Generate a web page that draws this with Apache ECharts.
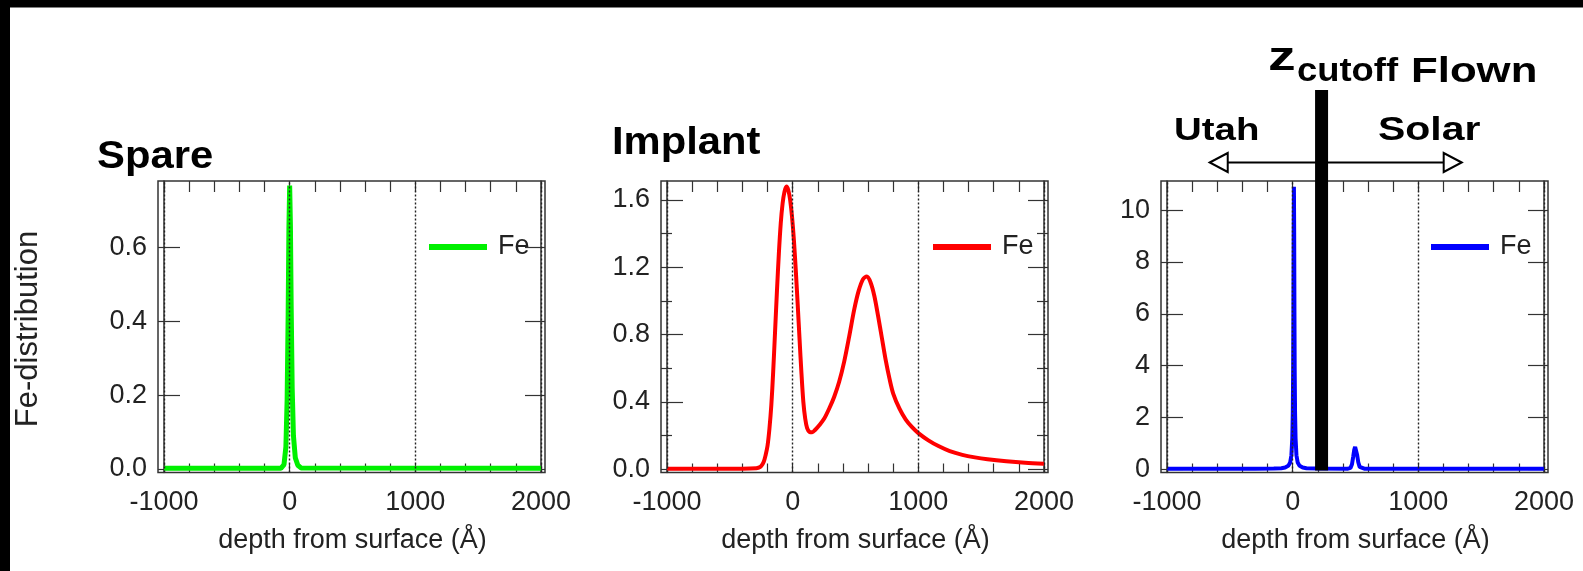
<!DOCTYPE html>
<html>
<head>
<meta charset="utf-8">
<script src="https://cdn.jsdelivr.net/npm/echarts@6/dist/echarts.min.js"></script>
<style>
  html, body { margin: 0; padding: 0; background: #fff; }
  #main { width: 1583px; height: 571px; }
</style>
</head>
<body>
<div id="main"></div>
<script>
// ---- data (depth in Å, Fe-distribution) ----
var spareDepth = [-1000, -70, -45, -30, -20, -12, -6, 0, 6, 12, 20, 30, 45, 65, 90, 2000];
var spareFe    = [0.002, 0.002, 0.012, 0.06, 0.19, 0.42, 0.65, 0.768, 0.66, 0.44, 0.22, 0.09, 0.03, 0.01, 0.003, 0.002];

var implantDepth = [-1000, -400, -290, -270, -250, -230, -215, -200, -185, -170, -155, -140, -125, -110, -95, -80, -65, -50, -35, -20, -5,
  10, 25, 40, 55, 70, 85, 100, 115, 135, 155, 180, 210, 250, 290, 330, 370, 410, 450, 490, 525, 560, 590, 620, 650, 680, 710, 740, 770,
  800, 850, 900, 950, 1000, 1080, 1160, 1250, 1350, 1450, 1550, 1700, 1850, 2000];
var implantFe = [0.004, 0.004, 0.006, 0.01, 0.02, 0.045, 0.085, 0.14, 0.24, 0.38, 0.58, 0.82, 1.06, 1.28, 1.46, 1.58, 1.65, 1.68, 1.66, 1.6, 1.5,
  1.36, 1.18, 0.98, 0.77, 0.57, 0.4, 0.3, 0.245, 0.222, 0.22, 0.235, 0.26, 0.3, 0.36, 0.43, 0.52, 0.64, 0.79, 0.95, 1.06, 1.13, 1.145, 1.11, 1.03, 0.91, 0.78, 0.65, 0.54,
  0.45, 0.36, 0.295, 0.25, 0.215, 0.172, 0.138, 0.108, 0.086, 0.071, 0.06, 0.048, 0.039, 0.033];

var flownDepth = [-1000, -300, -150, -90, -60, -35, -20, -10, -3, 1, 4, 6, 8, 10, 12, 14, 16, 19, 23, 30, 40, 55, 80, 110, 200,
  440, 460, 472, 482, 490, 497, 505, 513, 522, 533, 548, 570, 2000];
var flownFe = [0.03, 0.03, 0.04, 0.05, 0.075, 0.14, 0.27, 0.55, 1.2, 2.2, 3.9, 6.1, 9.1, 10.9, 9.1, 6.1, 3.9, 2.2, 1.2, 0.55, 0.27, 0.14, 0.075, 0.05, 0.035,
  0.03, 0.06, 0.2, 0.5, 0.76, 0.87, 0.8, 0.56, 0.28, 0.1, 0.04, 0.03, 0.03];

// tick values
var xLabelValues = [-1000, 0, 1000, 2000];
var gridLineValues = [-1000, 0, 1000, 2000];
var spareYTicks = [0, 0.2, 0.4, 0.6];
var implantYTicks = [0, 0.4, 0.8, 1.2, 1.6];
var implantYMinor = [0.2, 0.6, 1.0, 1.4];
var flownYTicks = [0, 2, 4, 6, 8, 10];

// cutoff depth and the Utah / Solar arrow span (Å)
var zCutoff = 230;
var arrowFrom = -660;
var arrowTo = 1345;

var FONT = "'Liberation Sans', Arial, Helvetica, sans-serif";
var AXIS = '#333';
var GRID_TOP = 181, GRID_W = 377, GRID_H = 291.5;

function zip(xs, ys) {
  return xs.map(function (x, i) { return [x, ys[i]]; });
}

var panels = [
  { name: 'Fe (Spare)', color: '#00f000', lw: 5, smooth: false, data: zip(spareDepth, spareFe),
    yMin: -0.0095, yMax: 0.7805, ticks: spareYTicks, minor: null, digits: 1, left: 164, legendLeft: 429 },
  { name: 'Fe (Implant)', color: '#ff0000', lw: 4, smooth: 0.3, data: zip(implantDepth, implantFe),
    yMin: -0.019, yMax: 1.713, ticks: implantYTicks, minor: implantYMinor, digits: 1, left: 667, legendLeft: 933 },
  { name: 'Fe (Flown)', color: '#0000ff', lw: 4, smooth: false, data: zip(flownDepth, flownFe),
    yMin: -0.116, yMax: 11.12, ticks: flownYTicks, minor: null, digits: 0, left: 1167, legendLeft: 1431 }
];

var grids = [], xAxes = [], yAxes = [], series = [], legends = [], graphics = [];

panels.forEach(function (p, i) {
  grids.push({ left: p.left, top: GRID_TOP, width: GRID_W, height: GRID_H });

  var bottomX = xAxes.length;
  xAxes.push({
    gridIndex: i, type: 'value', position: 'bottom', min: -1000, max: 2000, interval: 200,
    axisLine: { show: false, onZero: false },
    axisTick: { inside: true, length: 9, lineStyle: { color: AXIS, width: 1.2 } },
    axisLabel: { customValues: xLabelValues, formatter: function (v) { return String(v); },
      fontSize: 27, color: '#222', margin: 17, fontFamily: FONT },
    splitLine: { show: false },
    name: 'depth from surface (Å)', nameLocation: 'middle', nameGap: 55,
    nameTextStyle: { fontSize: 27, color: '#222', fontFamily: FONT }
  });
  xAxes.push({
    gridIndex: i, type: 'value', position: 'top', min: -1000, max: 2000, interval: 200,
    axisLine: { show: false, onZero: false },
    axisTick: { inside: true, length: 11, lineStyle: { color: AXIS, width: 1.2 } },
    axisLabel: { show: false }, splitLine: { show: false }
  });

  var fmt = function (v) { return Number(v).toFixed(p.digits); };
  var mainY = yAxes.length;
  function yAx(pos, offset, ticks, len, labels, line) {
    yAxes.push({
      gridIndex: i, type: 'value', position: pos, offset: offset, min: p.yMin, max: p.yMax,
      axisLine: { show: !!line, onZero: false, lineStyle: { color: AXIS, width: 1.5 } },
      axisTick: ticks ? { show: true, inside: true, length: len, customValues: ticks, lineStyle: { color: AXIS, width: 1.2 } } : { show: false },
      axisLabel: labels ? { customValues: ticks, formatter: fmt, fontSize: 27, color: '#222', margin: 11, fontFamily: FONT } : { show: false },
      splitLine: { show: false }
    });
  }
  yAx('left', 6, p.ticks, 22, true, false);
  yAx('right', 4, p.ticks, 20, false, false);
  yAx('left', 0, null, 0, false, true);
  yAx('right', 0, null, 0, false, true);
  if (p.minor) {
    yAx('left', 6, p.minor, 11, false, false);
    yAx('right', 4, p.minor, 11, false, false);
  }

  series.push({
    type: 'line', name: p.name, xAxisIndex: bottomX, yAxisIndex: mainY,
    data: p.data, symbol: 'none', showSymbol: false, smooth: p.smooth,
    lineStyle: { color: p.color, width: p.lw }, itemStyle: { color: p.color },
    z: 3,
    markLine: {
      silent: true, symbol: 'none', label: { show: false },
      lineStyle: { color: '#222', type: [2, 2], width: 1.4 },
      data: gridLineValues.map(function (v) { return { xAxis: v }; })
    }
  });

  legends.push({
    data: [p.name], left: p.legendLeft, top: 232, padding: 0, icon: 'rect',
    itemWidth: 58, itemHeight: 6, selectedMode: false,
    formatter: function () { return 'Fe'; },
    textStyle: { fontSize: 27, color: '#222', fontFamily: FONT, padding: [0, 0, 0, 6], lineHeight: 30 }
  });

  // plot frame
  graphics.push({
    type: 'rect', z: 10, silent: true,
    shape: { x: p.left - 6, y: GRID_TOP, width: GRID_W + 10, height: GRID_H },
    style: { fill: 'none', stroke: AXIS, lineWidth: 1.5 }
  });
});

function label(text, x, y, size, sx) {
  return {
    type: 'text', x: x, y: y, scaleX: sx, z: 20, silent: true,
    style: { text: text, fill: '#000', font: 'bold ' + size + 'px ' + FONT, align: 'left', verticalAlign: 'middle' }
  };
}

// black border strips of the original image
graphics.push({ type: 'rect', z: 30, shape: { x: 0, y: 0, width: 1583, height: 7.5 }, style: { fill: '#000' } });
graphics.push({ type: 'rect', z: 30, shape: { x: 0, y: 0, width: 10, height: 571 }, style: { fill: '#000' } });

graphics.push(label('Spare', 97, 158, 38, 1.1));
graphics.push(label('Implant', 612, 143, 39, 1.07));
graphics.push(label('Utah', 1174, 131, 32, 1.2));
graphics.push(label('Solar', 1378, 131, 33, 1.24));
graphics.push(label('z', 1268, 59, 41, 1.35));
graphics.push(label('cutoff', 1297, 72, 34, 1.07));
graphics.push(label('Flown', 1411, 72.5, 35, 1.25));
graphics.push({
  type: 'text', x: 28.5, y: 329, rotation: Math.PI / 2, z: 20, silent: true,
  style: { text: 'Fe-distribution', fill: '#222', font: '31px ' + FONT, align: 'center', verticalAlign: 'middle' }
});

var chart = echarts.init(document.getElementById('main'), null, { renderer: 'canvas' });

var option = {
  backgroundColor: '#fff',
  animation: false,
  grid: grids,
  xAxis: xAxes,
  yAxis: yAxes,
  legend: legends,
  series: series
};
chart.setOption(option);

// cutoff bar and Utah/Solar arrow, placed through the Flown panel's scales
var base = chart.convertToPixel({ seriesIndex: 2 }, [zCutoff, 0]);
var a0 = chart.convertToPixel({ seriesIndex: 2 }, [arrowFrom, 0]);
var a1 = chart.convertToPixel({ seriesIndex: 2 }, [arrowTo, 0]);
var ay = 162.5, head = 18, half = 9.5;

graphics.push({
  type: 'line', z: 15, silent: true,
  shape: { x1: a0[0] + head, y1: ay, x2: a1[0] - head, y2: ay },
  style: { stroke: '#000', lineWidth: 2 }
});
graphics.push({
  type: 'polygon', z: 15, silent: true,
  shape: { points: [[a0[0], ay], [a0[0] + head, ay - half], [a0[0] + head, ay + half]] },
  style: { fill: '#fff', stroke: '#000', lineWidth: 2 }
});
graphics.push({
  type: 'polygon', z: 15, silent: true,
  shape: { points: [[a1[0], ay], [a1[0] - head, ay - half], [a1[0] - head, ay + half]] },
  style: { fill: '#fff', stroke: '#000', lineWidth: 2 }
});
graphics.push({
  type: 'rect', z: 16, silent: true,
  shape: { x: base[0] - 6.5, y: 90, width: 13, height: base[1] + 1 - 90 },
  style: { fill: '#000' }
});

chart.setOption({ graphic: graphics });
</script>
</body>
</html>
